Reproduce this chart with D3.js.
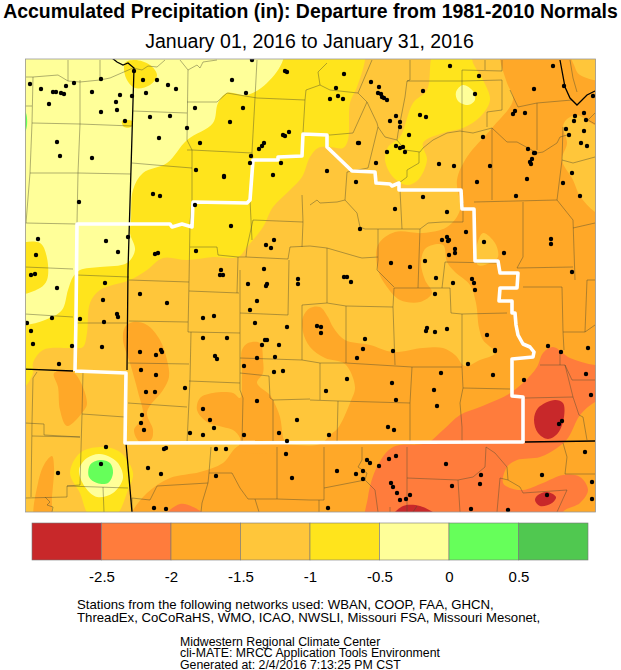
<!DOCTYPE html>
<html>
<head>
<meta charset="utf-8">
<script src="https://cdn.jsdelivr.net/npm/d3@7"></script>
<style>
  body { margin: 0; background: #fff; }
  text { font-family: "Liberation Sans", Arial, sans-serif; fill: #000; }
</style>
</head>
<body>
<svg id="chart" width="621" height="670"></svg>
<script>
// legend classes
const legendBreaks = [-3, -2.5, -2, -1.5, -1, -0.5, 0, 0.5, 1];
const legendColors = ["#c8282a", "#ff7c3c", "#ffa828", "#ffc63a", "#ffe41c", "#ffff99", "#66ff5a", "#50c850"];
const tickLabels = [-2.5, -2, -1.5, -1, -0.5, 0, 0.5];

const orangeMain = [[500,59],[507,83],[513,100],[492,128],[467,157],[457,180],[460,210],[447,227],[423,233],[395,232],[378,245],[378,270],[387,287],[400,300],[420,302],[432,293],[425,280],[421,262],[426,248],[443,245],[447,262],[455,272],[470,285],[476,303],[479,328],[483,340],[495,353],[480,360],[465,366],[455,355],[443,348],[423,348],[393,352],[370,345],[345,340],[333,327],[328,317],[320,307],[310,308],[303,317],[303,332],[310,347],[325,358],[345,364],[355,387],[350,403],[338,428],[330,435],[320,444],[240,445],[223,463],[200,472],[170,478],[147,493],[132,512],[125,530],[620,530],[620,40],[500,40]];
const orangeLobeA = [[125,327],[133,322],[147,325],[160,340],[167,360],[169,377],[163,390],[147,412],[153,430],[151,440],[140,442],[134,430],[143,417],[138,392],[130,363],[123,340]];
const orangeLobeB = [[54,373],[73,372],[87,403],[82,413],[67,426],[60,410],[58,387]];
const orangeLobeC = [[52,456],[54,467],[52,497],[50,520],[35,520],[38,483],[45,463]];
const orangeLobeD = [[197,410],[200,398],[213,393],[233,393],[240,398],[242,375],[242,350],[248,343],[260,343],[263,360],[263,373],[257,383],[270,395],[273,400],[280,417],[283,437],[287,450],[240,450],[240,438],[233,430],[223,427],[207,422]];
const lightPatchEast = [[566,120],[577,115],[595,125],[615,125],[615,220],[595,212],[580,196],[573,180],[562,160],[567,143],[563,127]];
const lightPatchNorth = [[570,50],[574,65],[580,75],[615,80],[615,50]];
const lightPatchSmall = [[483,233],[495,243],[498,257],[490,263],[478,265],[476,250]];
const redOrangeMain = [[615,365],[595,365],[570,358],[553,347],[543,353],[537,367],[523,383],[507,395],[480,407],[460,415],[443,430],[427,443],[393,447],[377,467],[368,497],[368,530],[563,530],[563,512],[580,503],[588,490],[580,477],[563,475],[543,483],[523,490],[510,488],[503,483],[507,467],[517,460],[540,457],[557,448],[568,438],[580,415],[595,402],[615,395]];
const redOrangeSmall = [[165,516],[180,504],[193,507],[206,516]];
const redEast = [[555,400],[563,403],[564,417],[558,433],[548,439],[538,433],[534,420],[538,408]];
const redSouth = [[547,492],[556,497],[552,503],[540,506],[535,500],[538,495]];
const redBottom = [[393,516],[403,506],[420,506],[437,516]];
const yellowMain = [[365,40],[365,60],[357,87],[350,103],[348,140],[343,148],[330,147],[318,148],[310,157],[302,177],[290,190],[273,207],[263,227],[247,247],[238,257],[213,257],[187,260],[163,258],[147,270],[130,280],[100,290],[90,303],[87,333],[83,347],[73,348],[43,350],[33,363],[33,373],[25,387],[5,400],[5,40]];
const yellowEast = [[470,50],[435,50],[427,90],[413,103],[400,137],[388,147],[385,160],[393,177],[407,185],[418,180],[427,160],[423,143],[443,133],[463,128],[480,117],[490,100],[483,80],[473,63]];
const paleMain = [[283,40],[283,60],[267,83],[247,95],[227,93],[218,103],[213,123],[187,140],[167,163],[143,173],[133,190],[131,220],[130,233],[135,250],[127,263],[100,267],[80,270],[73,277],[68,290],[62,310],[45,320],[25,325],[5,325],[5,40]];
const paleEast = [[463,85],[473,91],[475,100],[468,105],[458,101],[456,92]];
const yellowBlobWest = [[18,246],[40,243],[47,258],[47,280],[40,288],[18,293]];
const yellowBlobTop = [[125,63],[135,60],[150,65],[157,75],[150,85],[135,88],[126,78]];
const yellowBlobMid = [[122,121],[132,121],[131,127],[124,127]];
const yellowSw = [[100,447],[120,452],[133,473],[128,490],[115,516],[90,516],[80,493],[70,473],[80,453]];
const paleSw = [[100,454],[117,462],[123,478],[113,493],[97,497],[85,487],[79,470],[87,458]];
const greenSw = [[100,460],[110,463],[113,473],[108,483],[97,483],[89,477],[90,465]];
const greenWest = [[21,108],[26,113],[26,130],[21,135]];

const bands = [
  [orangeMain, 2], [orangeLobeA, 2], [orangeLobeB, 2], [orangeLobeC, 2], [orangeLobeD, 2],
  [lightPatchEast, 3], [lightPatchNorth, 3], [lightPatchSmall, 3],
  [redOrangeMain, 1], [redOrangeSmall, 1],
  [redEast, 0], [redSouth, 0], [redBottom, 0],
  [yellowMain, 4], [yellowEast, 4],
  [paleMain, 5], [paleEast, 5],
  [yellowBlobWest, 4], [yellowBlobTop, 4], [yellowBlobMid, 4],
  [yellowSw, 4], [paleSw, 5], [greenSw, 6], [greenWest, 6]
];

const countyLines = [
  [[26,77],[33,77],[58,75],[68,81],[80,82],[100,80],[110,78],[133,68],[142,70],[148,66],[157,67],[165,60]],
  [[180,60],[188,70],[197,65],[200,68],[203,62],[217,60]],
  [[68,60],[68,81]], [[100,60],[100,80]], [[25,106],[32,106]],
  [[188,70],[187,140],[192,150],[192,200],[190,223],[189,282],[188,332],[191,332],[190,380],[187,443]],
  [[257,60],[255,98],[252,152],[253,160],[250,200],[252,240]],
  [[187,102],[217,102],[227,93],[257,98],[305,100],[306,90],[320,85]],
  [[305,100],[303,133]], [[32,123],[80,124],[132,126]], [[133,111],[187,113]],
  [[132,163],[167,166],[192,168]], [[187,150],[192,150],[252,153]],
  [[30,173],[78,173],[131,174]], [[80,80],[80,124],[78,173],[77,223]],
  [[33,77],[32,123],[30,173],[26,223]], [[25,223],[77,224]],
  [[190,247],[217,247],[218,255],[238,257],[246,257],[288,259],[290,247],[310,246],[327,248],[358,257],[362,258],[378,257]],
  [[246,257],[247,247],[253,220],[303,222]], [[302,195],[303,222],[302,247]],
  [[238,257],[237,293]], [[25,267],[73,269]], [[77,275],[129,277]], [[129,280],[189,282]],
  [[189,291],[239,293]], [[240,270],[240,313],[288,315],[289,260]], [[129,321],[188,322]],
  [[240,313],[240,390],[243,398],[242,443]], [[302,305],[327,303]], [[302,305],[302,360]],
  [[240,358],[302,360],[320,363],[346,363]], [[240,373],[269,376],[270,398],[273,400],[310,399]],
  [[273,400],[273,443]], [[128,363],[189,364]], [[128,403],[187,407]], [[189,381],[240,383]],
  [[191,332],[240,333]], [[25,314],[73,317]], [[77,323],[127,323]],
  [[37,372],[33,378],[32,423],[31,497]], [[25,423],[44,424],[44,435],[80,437]], [[32,436],[80,437]],
  [[83,372],[82,414],[80,485],[67,486],[67,497],[25,498]], [[82,414],[125,417]], [[67,486],[128,488]],
  [[103,487],[104,512]], [[45,497],[50,502],[47,505],[53,507],[52,512]],
  [[132,498],[150,500],[157,486],[208,483],[209,473],[232,473],[240,488],[248,499],[277,499],[310,500]],
  [[208,483],[202,503],[201,512]], [[211,447],[209,473]], [[277,447],[277,499]], [[255,499],[259,512]],
  [[372,60],[358,93],[367,102],[377,123],[378,127],[385,137],[397,140],[405,150],[420,152],[423,148],[433,140],[447,133],[460,131],[473,133],[492,128],[507,142],[517,142],[528,148],[537,153],[543,152],[557,143],[560,137],[567,135]],
  [[367,102],[353,133],[330,135],[303,133]],
  [[327,63],[318,72],[320,85],[330,90],[358,93]],
  [[410,60],[410,80],[407,81],[462,81],[502,80],[502,110],[487,112],[487,127]],
  [[407,81],[405,97],[398,133],[397,140]], [[462,70],[502,71],[502,60]], [[485,60],[485,70]],
  [[462,70],[462,190]], [[419,152],[419,163],[407,170],[407,177],[399,183]],
  [[378,127],[368,168],[347,172],[345,200],[337,202],[320,203],[317,200],[310,205]],
  [[345,200],[357,213],[360,227],[365,229],[402,229],[420,229],[428,223],[443,222],[463,222],[463,203]],
  [[400,190],[402,229]], [[378,229],[378,260],[377,270],[394,287]], [[420,229],[418,288]],
  [[445,262],[442,288]], [[445,262],[497,263]], [[327,248],[327,303],[346,306],[393,307],[394,288],[450,288],[451,313],[462,314],[507,313]],
  [[492,128],[492,200]], [[474,202],[557,200]], [[523,202],[523,257],[517,268],[573,267]],
  [[557,200],[573,220],[575,280]], [[573,228],[595,223]], [[537,103],[537,150]],
  [[510,90],[518,107],[537,103],[572,100]], [[563,127],[562,160],[557,200]],
  [[562,160],[573,163],[595,157]], [[570,60],[573,78],[577,92]], [[595,113],[588,120],[595,124]],
  [[346,306],[346,363]], [[320,363],[320,400]], [[310,400],[338,401],[410,403],[412,367],[346,363]],
  [[412,367],[462,367]], [[393,307],[395,365]], [[462,314],[462,367],[463,388],[460,403],[462,427],[462,443]],
  [[463,388],[510,389]], [[338,401],[337,443]], [[410,403],[410,443]],
  [[540,365],[565,365],[572,380],[595,380]], [[560,350],[560,365]],
  [[565,365],[573,397],[525,398]], [[573,397],[579,415],[583,417],[587,440]],
  [[523,287],[562,287],[563,332],[585,332],[587,280],[595,280]], [[563,332],[564,350]], [[585,332],[595,325]],
  [[324,447],[324,500],[310,500]], [[324,488],[365,480]],
  [[362,447],[362,460],[358,467],[367,473],[365,480],[375,490],[378,512]],
  [[407,447],[407,512]], [[407,478],[458,480],[473,477],[485,467],[486,447]], [[458,480],[460,512]],
  [[486,447],[495,453],[507,467],[508,480],[500,478],[497,512]],
  [[508,480],[520,487],[523,493],[567,490],[557,512]],
  [[563,443],[567,457],[565,474],[595,474]], [[390,507],[390,512]], [[417,506],[413,512]],
  [[319,500],[319,512]], [[132,498],[132,512]]
];
const stateLines = [
  [[112,58],[117,62],[123,65],[128,63],[134,68],[128,270],[127,370]],
  [[24,369],[73,371]], [[126,443],[132,512]], [[525,442],[595,441]],
  [[560,60],[565,87],[570,98],[577,105],[587,95],[595,91]]
];
const regionBorder = [[75,371],[76,317],[77,224],[130,224],[170,224],[172,227],[182,224],[192,227],[193,202],[247,203],[250,200],[253,160],[278,160],[278,157],[302,156],[303,134],[327,135],[327,147],[352,171],[375,172],[376,183],[390,184],[392,186],[399,183],[399,190],[435,190],[461,190],[462,209],[474,209],[475,261],[498,261],[500,273],[518,273],[517,288],[500,288],[499,301],[512,301],[512,313],[515,313],[516,325],[518,335],[523,344],[530,347],[534,352],[533,357],[512,359],[512,396],[523,397],[523,442],[125,443],[126,373],[75,371]];

const stations = [[30,84],[41,89],[53,92],[56,92],[61,93],[64,94],[66,86],[74,83],[49,104],[92,92],[101,79],[120,95],[116,102],[117,110],[101,112],[125,121],[132,96],[134,71],[143,80],[157,80],[168,85],[176,89],[146,93],[150,117],[170,116],[159,138],[57,142],[60,156],[92,158],[79,202],[38,239],[36,255],[31,275],[35,274],[106,241],[118,252],[128,237],[153,194],[160,196],[155,254],[158,253],[195,108],[187,128],[200,143],[232,80],[246,93],[252,60],[243,108],[230,122],[251,156],[250,163],[196,170],[224,176],[224,177],[195,205],[231,226],[196,251],[221,270],[220,275],[223,275],[259,149],[262,146],[264,143],[283,135],[285,136],[289,132],[285,71],[287,72],[281,163],[273,175],[274,240],[266,245],[271,248],[264,269],[298,279],
[344,74],[336,88],[330,99],[338,96],[343,99],[371,82],[379,87],[378,93],[381,94],[382,97],[384,98],[387,100],[396,116],[390,121],[400,122],[400,127],[420,115],[426,117],[423,91],[450,66],[479,76],[475,94],[409,135],[396,146],[400,148],[403,147],[405,152],[387,152],[376,163],[358,143],[359,143],[327,171],[356,182],[439,164],[454,166],[483,137],[490,166],[477,182],[513,114],[515,111],[525,113],[534,89],[553,66],[564,86],[593,96],[575,116],[574,121],[584,113],[586,120],[566,129],[569,135],[584,131],[581,143],[587,146],[528,149],[534,153],[535,153],[532,159],[530,162],[531,164],[527,179],[516,196],[572,173],[563,183],[580,196],[423,197],[395,209],[447,212],[360,229],[466,232],[442,240],[447,237],[448,241],[449,240],[455,249],[455,253],[449,255],[484,242],[504,253],[551,239],[551,244],[572,272],[391,263],[410,267],[425,261],[344,277],[347,277],[436,278],[472,279],
[57,288],[103,300],[105,283],[117,314],[118,317],[104,322],[52,318],[27,323],[80,319],[31,331],[33,344],[72,346],[102,347],[59,364],[140,294],[167,303],[203,318],[214,316],[203,338],[227,338],[140,352],[156,355],[161,350],[162,352],[215,356],[217,359],[141,370],[156,375],[146,392],[155,392],[185,388],[142,415],[141,423],[144,430],[203,409],[210,420],[214,428],[190,433],[203,435],[244,435],[257,401],[244,366],[257,358],[262,345],[265,340],[267,340],[279,345],[275,357],[274,372],[283,371],[255,323],[287,327],[250,310],[257,301],[248,284],[266,286],[267,284],[298,284],[297,420],[279,433],[287,441],[106,447],[101,464],[58,473],[148,468],[161,474],[164,449],[166,448],[216,449],[226,449],[216,476],[286,454],[292,478],[154,508],[166,509],
[351,282],[317,326],[321,327],[321,333],[365,339],[363,349],[357,358],[393,351],[435,294],[453,283],[474,283],[475,290],[427,328],[426,331],[435,332],[447,329],[487,335],[495,350],[495,351],[468,364],[493,375],[441,373],[434,390],[437,406],[396,400],[392,383],[347,379],[326,391],[388,427],[394,430],[329,435],[524,380],[548,346],[561,352],[588,348],[586,374],[591,395],[562,421],[559,424],[585,452],[542,475],[592,482],[592,499],[547,495],[508,510],[471,509],[481,475],[480,484],[452,486],[446,464],[396,456],[389,459],[379,466],[367,460],[370,463],[363,471],[356,474],[363,479],[337,471],[391,483],[393,487],[397,493],[400,500],[406,499],[410,495],[328,508]];

const svg = d3.select("#chart");

// map frame: picture position to plot position
const mapLeft = 25.5, mapTop = 59, mapW = 570, mapH = 453;
const x = d3.scaleLinear().domain([25.5, 595.5]).range([0, mapW]);
const y = d3.scaleLinear().domain([59, 512]).range([0, mapH]);

svg.append("text").attr("x", 310.5).attr("y", 17.7).attr("text-anchor", "middle")
  .style("font-size", "19.45px").style("font-weight", "bold")
  .text("Accumulated Precipitation (in): Departure from 1981-2010 Normals");
svg.append("text").attr("x", 309.5).attr("y", 48).attr("text-anchor", "middle")
  .style("font-size", "19.5px")
  .text("January 01, 2016 to January 31, 2016");

svg.append("clipPath").attr("id", "mapClip").append("rect")
  .attr("width", mapW).attr("height", mapH);

const map = svg.append("g").attr("transform", `translate(${mapLeft},${mapTop})`);
const plot = map.append("g").attr("clip-path", "url(#mapClip)");

plot.append("rect").attr("width", mapW).attr("height", mapH).attr("fill", legendColors[3]);

const bandPath = d3.line().x(d => x(d[0])).y(d => y(d[1]))
  .curve(d3.curveCatmullRomClosed.alpha(0.5));
plot.selectAll("path.band").data(bands).join("path")
  .attr("class", "band")
  .attr("d", d => bandPath(d[0]))
  .attr("fill", d => legendColors[d[1]]);

const linePath = d3.line().x(d => x(d[0])).y(d => y(d[1]));
plot.selectAll("path.county").data(countyLines).join("path")
  .attr("class", "county")
  .attr("d", linePath)
  .attr("fill", "none").attr("stroke", "#4a4a30").attr("stroke-opacity", 0.55).attr("stroke-width", 0.8);
plot.selectAll("path.state").data(stateLines).join("path")
  .attr("class", "state")
  .attr("d", linePath)
  .attr("fill", "none").attr("stroke", "#000").attr("stroke-width", 1.3);
plot.append("path").datum(regionBorder)
  .attr("d", linePath)
  .attr("fill", "none").attr("stroke", "#fff").attr("stroke-width", 3.6).attr("stroke-linejoin", "round");
plot.selectAll("circle").data(stations).join("circle")
  .attr("cx", d => x(d[0])).attr("cy", d => y(d[1])).attr("r", 2.2)
  .attr("fill", "#000");

map.append("rect").attr("width", mapW).attr("height", mapH)
  .attr("fill", "none").attr("stroke", "#999").attr("stroke-width", 0.8);

// legend
const legendX = d3.scaleLinear().domain([-3, 1]).range([32, 588]);
const legendY = 523, legendH = 37;
svg.selectAll("rect.key").data(legendColors).join("rect")
  .attr("class", "key")
  .attr("x", (d, i) => legendX(legendBreaks[i]))
  .attr("y", legendY)
  .attr("width", (d, i) => legendX(legendBreaks[i + 1]) - legendX(legendBreaks[i]))
  .attr("height", legendH)
  .attr("fill", d => d).attr("stroke", "#777").attr("stroke-width", 0.6);

const legendAxis = d3.axisBottom(legendX).tickValues(tickLabels).tickFormat(d => d).tickSize(0).tickPadding(0);
const axisG = svg.append("g").attr("transform", "translate(0,571)").call(legendAxis);
axisG.select(".domain").remove();
axisG.selectAll("text").attr("font-family", null).style("font-size", "15px");

// footer
const footerLines = [
  ["Stations from the following networks used: WBAN, COOP, FAA, GHCN,", 77, 609, 13.2],
  ["ThreadEx, CoCoRaHS, WMO, ICAO, NWSLI, Missouri FSA, Missouri Mesonet,", 77, 622, 13.2],
  ["Midwestern Regional Climate Center", 180, 645.5, 12.3],
  ["cli-MATE: MRCC Application Tools Environment", 180, 657, 12.3],
  ["Generated at: 2/4/2016 7:13:25 PM CST", 180, 668.5, 12.3]
];
svg.selectAll("text.foot").data(footerLines).join("text")
  .attr("class", "foot")
  .attr("x", d => d[1]).attr("y", d => d[2])
  .style("font-size", d => d[3] + "px")
  .text(d => d[0]);
</script>
</body>
</html>
